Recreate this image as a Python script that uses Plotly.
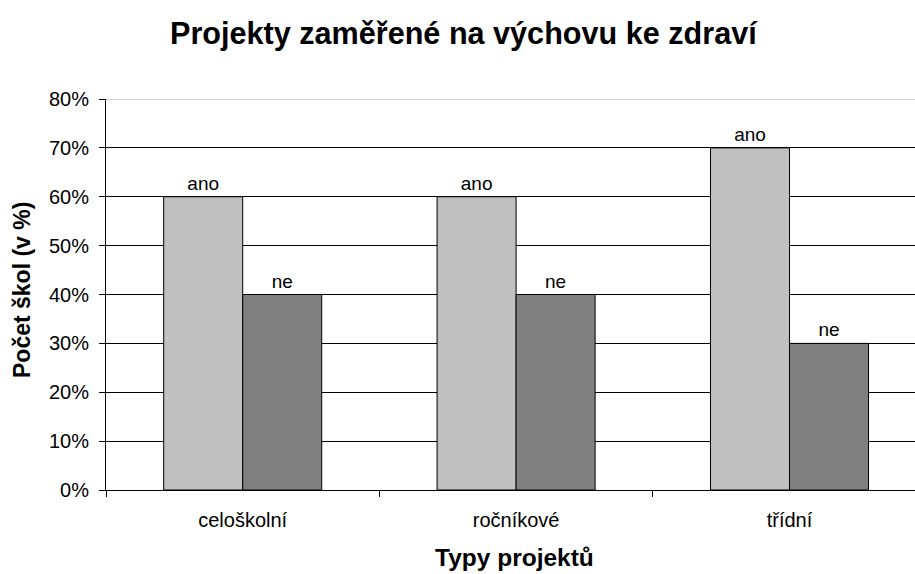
import plotly.graph_objects as go

categories = ["celoškolní", "ročníkové", "třídní"]
ano_values = [60, 60, 70]
ne_values = [40, 40, 30]
series_names = ["ano", "ne"]
y_ticks = [0, 10, 20, 30, 40, 50, 60, 70, 80]
y_tick_labels = [f"{v}%" for v in y_ticks]

FONT = "Liberation Sans, Arial, sans-serif"
W, H = 915, 574
L, R, T, B = 106, 0, 99, 84
PW, PH = W - L - R, H - T - B
GROUP_PX = 273.4  # pixel width of one category band

fig = go.Figure()
for name, vals, color in [(series_names[0], ano_values, "#C0C0C0"),
                          (series_names[1], ne_values, "#808080")]:
    fig.add_trace(go.Bar(
        x=categories, y=vals, name=name,
        marker=dict(color=color, line=dict(color="black", width=1)),
        text=[name] * len(vals), textposition="outside",
        textfont=dict(family=FONT, size=19, color="black"),
        cliponaxis=False,
    ))

fig.update_layout(
    width=W, height=H,
    margin=dict(l=L, r=R, t=T, b=B, autoexpand=False),
    paper_bgcolor="white", plot_bgcolor="white",
    barmode="group", bargap=0.422, bargroupgap=0,
    showlegend=False,
    font=dict(family=FONT, size=19, color="black"),
)
fig.update_xaxes(
    automargin=False,
    range=[-0.5, -0.5 + PW / GROUP_PX],
    showline=True, linecolor="black", linewidth=1,
    ticks="outside", tickson="boundaries", ticklen=6, tickcolor="black",
    ticklabelstandoff=12,
    tickfont=dict(family=FONT, size=20, color="black"),
)
fig.update_yaxes(
    automargin=False,
    range=[0, 80], tickvals=y_ticks, ticktext=y_tick_labels,
    showline=True, linecolor="black", linewidth=1,
    ticks="outside", ticklen=6, tickcolor="black",
    ticklabelstandoff=6,
    showgrid=True, gridcolor="black", gridwidth=1,
    zeroline=False,
    tickfont=dict(family=FONT, size=20, color="black"),
)
fig.add_annotation(text="<b>Projekty zaměřené na výchovu ke zdraví</b>", xref="paper", yref="paper",
                   x=(464 - L) / PW, y=(H - B - 33) / PH, xanchor="center", yanchor="middle",
                   showarrow=False, font=dict(family=FONT, size=30.6, color="black"))
fig.add_annotation(text="<b>Typy projektů</b>", xref="paper", yref="paper",
                   x=(514 - L) / PW, y=(H - B - 557) / PH, xanchor="center", yanchor="middle",
                   showarrow=False, font=dict(family=FONT, size=24.5, color="black"))
fig.add_annotation(text="<b>Počet škol (v %)</b>", xref="paper", yref="paper",
                   x=(22 - L) / PW, y=(H - B - 290) / PH, xanchor="center", yanchor="middle", textangle=-90,
                   showarrow=False, font=dict(family=FONT, size=23, color="black"))
fig.add_shape(type="line", xref="paper", yref="y", x0=0, x1=1, y0=y_ticks[-1], y1=y_ticks[-1],
              line=dict(color="#c0c0c0", width=1.5), layer="above")

fig.write_html("out.html", config={"displayModeBar": False},
               post_script="document.body.style.margin='0';")
